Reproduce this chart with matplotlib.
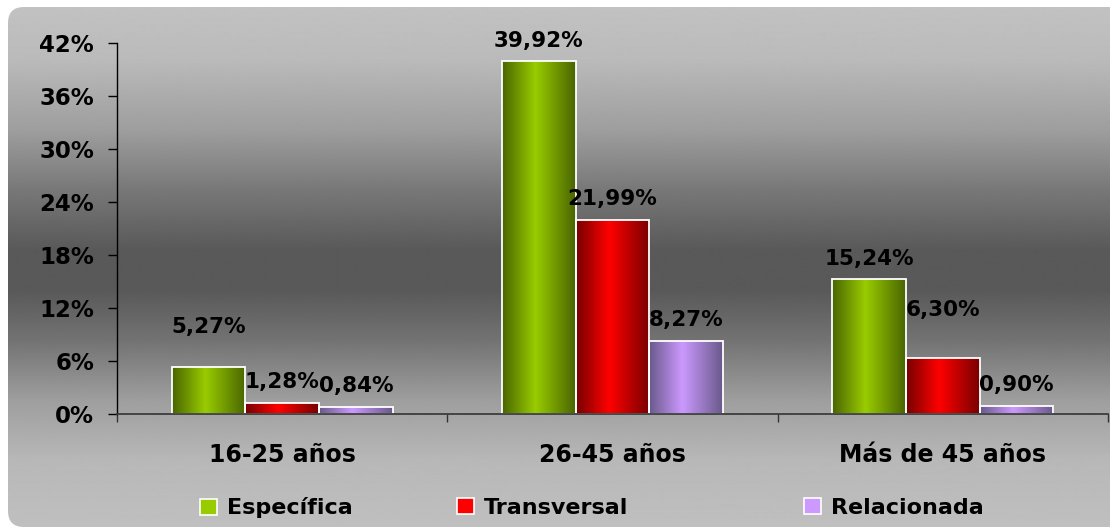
import numpy as np
import matplotlib
matplotlib.use("Agg")
import matplotlib.pyplot as plt
from matplotlib.colors import LinearSegmentedColormap
from matplotlib.patches import FancyBboxPatch, Patch

# Data
categories = ["16-25 años", "26-45 años", "Más de 45 años"]
series_names = ["Específica", "Transversal", "Relacionada"]
especifica = [5.27, 39.92, 15.24]
transversal = [1.28, 21.99, 6.30]
relacionada = [0.84, 8.27, 0.90]
yticks = [0, 6, 12, 18, 24, 30, 36, 42]

series = [especifica, transversal, relacionada]
# edge colour, centre colour of each series' horizontal gradient
shades = [("#4a6600", "#99cc00"), ("#7a0000", "#ff0000"), ("#6a5a8c", "#cc99ff")]
# vertical offsets (points) of the value labels above each bar
label_offsets = [[29, 15, 15], [15, 15, 35], [15, 15, 15]]

plt.rcParams["font.family"] = "DejaVu Sans"
plt.rcParams["font.weight"] = "bold"

W, H = 1110, 529
fig = plt.figure(figsize=(W / 100, H / 100), dpi=100)
fig.patch.set_facecolor("white")

# background panel with vertical gradient and rounded corners
bg = fig.add_axes([0, 0, 1, 1], zorder=0)
bg.set_xlim(0, W)
bg.set_ylim(H, 0)
bg.axis("off")
ys = [7, 60, 130, 190, 250, 290, 340, 400, 460, 527]
gs = [0.76, 0.73, 0.62, 0.47, 0.35, 0.35, 0.45, 0.62, 0.72, 0.75]
grad = np.interp(np.arange(7, 528), ys, gs)[:, None]
panel = FancyBboxPatch((8, 7), W + 40, 520, boxstyle="round,pad=0,rounding_size=16",
                       facecolor="none", edgecolor="none")
bg.add_patch(panel)
im = bg.imshow(grad, cmap="gray", vmin=0, vmax=1, aspect="auto",
               extent=(8, W + 48, 527, 7), interpolation="bilinear")
im.set_clip_path(panel)

# main axes
ax = fig.add_axes([117 / W, 115 / H, 991 / W, 371 / H], zorder=1)
ax.set_facecolor("none")

x = np.arange(len(categories))
width = 0.223
for i, vals in enumerate(series):
    pos = x + (i - 1) * width
    bars = ax.bar(pos, vals, width=width, facecolor="none", edgecolor="white",
                  linewidth=1.3, zorder=3)
    cmap = LinearSegmentedColormap.from_list(
        "g%d" % i, [(0, shades[i][0]), (0.45, shades[i][1]), (1, shades[i][0])])
    for j, b in enumerate(bars):
        x0, y0 = b.get_x(), b.get_y()
        w, h = b.get_width(), b.get_height()
        gim = ax.imshow(np.linspace(0, 1, 64)[None, :], cmap=cmap, aspect="auto",
                        extent=(x0, x0 + w, y0, y0 + h), zorder=2,
                        interpolation="bilinear")
        gim.set_clip_path(b)
        ax.annotate(("%.2f%%" % vals[j]).replace(".", ","),
                    (x0 + w / 2, h), xytext=(0, label_offsets[i][j]),
                    textcoords="offset points", ha="center", va="center",
                    fontsize=15.5, fontweight="bold", color="black", zorder=5)
ax.set_xlim(-0.5, 2.5)
ax.set_ylim(0, 42)

ax.set_yticks(yticks)
ax.set_yticklabels(["%d%%" % t for t in yticks])
ax.tick_params(axis="y", direction="out", length=6.5, width=1, color="black",
               labelsize=16.5, pad=10)
ax.set_xticks(x)
ax.set_xticklabels(categories)
ax.set_xticks([-0.5, 0.5, 1.5, 2.5], minor=True)
ax.tick_params(axis="x", which="major", length=0, labelsize=17, pad=21)
ax.tick_params(axis="x", which="minor", direction="out", length=5.5, width=1,
               color="#333333")
for lab in ax.get_xticklabels() + ax.get_yticklabels():
    lab.set_fontweight("bold")

for s in ["top", "right"]:
    ax.spines[s].set_visible(False)
ax.spines["left"].set_color("black")
ax.spines["left"].set_linewidth(1)
ax.spines["bottom"].set_color("#3c3c3c")
ax.spines["bottom"].set_linewidth(1.3)
ax.spines["bottom"].set_zorder(4)

# legend entries placed individually
legend_x = [200 / W, 457 / W, 804 / W]
for i, name in enumerate(series_names):
    h = Patch(facecolor=shades[i][1], edgecolor="white", linewidth=1.2)
    fig.legend([h], [name], loc="center left",
               bbox_to_anchor=(legend_x[i], 21 / H), frameon=False,
               prop={"size": 16, "weight": "bold"},
               handlelength=0.75, handleheight=0.75, handletextpad=0.45,
               borderaxespad=0, borderpad=0)

fig.savefig("out.png", dpi=100)
